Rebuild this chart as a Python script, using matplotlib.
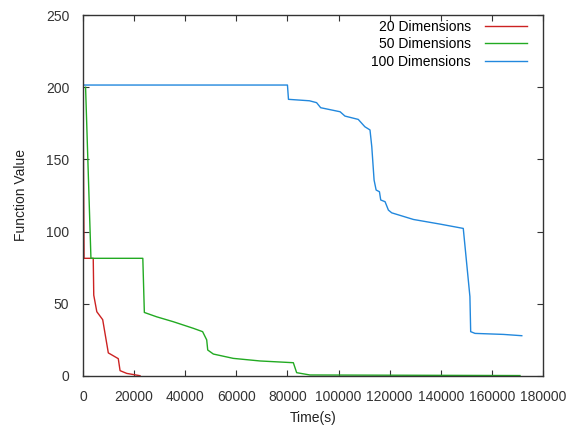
import matplotlib
matplotlib.use('Agg')
import matplotlib.pyplot as plt

# values
t20 = [0, 400, 4000, 4200, 5400, 7700, 9900, 13800, 14500, 17100, 22300]
f20 = [200, 81.5, 81.5, 56, 44.5, 39, 16, 12, 3.7, 1.8, 0.2]

t50 = [1000, 3100, 23400, 24000, 28800, 35300, 43200, 46800, 48400, 48800,
       51000, 58800, 69300, 82300, 83600, 88800, 171000]
f50 = [200, 81.5, 81.5, 44, 41, 37.6, 33, 30.7, 25, 18,
       15.2, 12.2, 10.4, 9.2, 2.3, 0.7, 0.3]

t100 = [0, 80000, 80400, 88600, 91400, 93000, 100600, 102500, 107700, 110300,
        112300, 113000, 113900, 114700, 116000, 116500, 118200, 119500, 120800,
        129300, 139700, 148800, 151400, 151700, 153400, 164500, 171700]
f100 = [201.5, 201.5, 191.6, 190.6, 189.3, 185.8, 183, 180, 177.7, 172.6,
        170.4, 158.8, 135.7, 128.8, 127.6, 121.9, 120.7, 114.9, 113,
        108.4, 105.2, 102.2, 55, 30.7, 29.5, 28.8, 27.9]

labels = ['20 Dimensions', '50 Dimensions', '100 Dimensions']
colors = ['#cc2222', '#22aa22', '#2288dd']

plt.rcParams['font.family'] = ['Liberation Sans', 'DejaVu Sans']
fig = plt.figure(figsize=(5.69, 4.30), dpi=100)
ax = fig.add_axes([0.1459, 0.1256, 0.8084, 0.8395])

for t, f, lab, c in zip([t20, t50, t100], [f20, f50, f100], labels, colors):
    ax.plot(t, f, color=c, lw=1.0, label=lab)

ax.set_xlim(0, 180000)
ax.set_ylim(0, 250)
ax.set_xticks(range(0, 180001, 20000))
ax.set_yticks(range(0, 251, 50))
ax.tick_params(direction='in', top=True, right=True, length=4, labelsize=10,
               colors='#333333')
ax.tick_params(axis='y', pad=10)
ax.tick_params(axis='x', pad=10)
for s in ax.spines.values():
    s.set_color('#333333')
    s.set_linewidth(1.0)

ax.set_xlabel('Time(s)', fontsize=10, labelpad=5, color='#222222')
ax.set_ylabel('Function Value', fontsize=10, labelpad=13, color='#222222')

leg = ax.legend(loc='upper right', frameon=False, fontsize=10, markerfirst=False,
                handlelength=3.0, handletextpad=1.0, labelspacing=0.25,
                borderaxespad=0.25, borderpad=0.1,
                bbox_to_anchor=(0.975, 1.0))
for txt in leg.get_texts():
    txt.set_ha('right')
leg._legend_box.align = 'right'

fig.savefig('out.png', dpi=100)
